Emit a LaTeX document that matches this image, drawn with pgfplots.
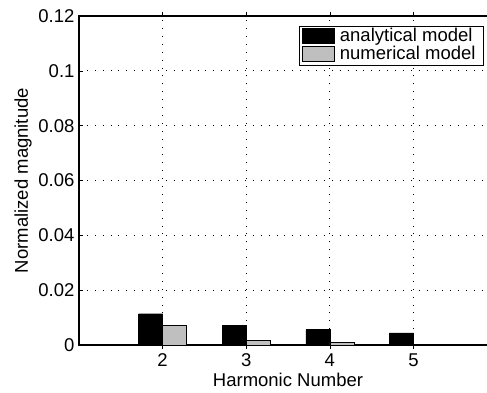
\documentclass[border=0pt]{standalone}
\usepackage{pgfplots}
\pgfplotsset{compat=1.18}
\usetikzlibrary{calc}
\usepackage{fontspec}
\setmainfont{Liberation Sans}
\newcommand{\ff}{\fontsize{18.5}{21}\selectfont}
\begin{document}
\begin{tikzpicture}
\begin{axis}[
  scale only axis,
  width=418pt, height=329pt,
  xmin=1, xmax=6, ymin=0, ymax=0.12,
  xtick={2,3,4,5},
  ytick={0,0.02,0.04,0.06,0.08,0.1,0.12},
  yticklabels={0,0.02,0.04,0.06,0.08,0.1,0.12},
  xticklabels={2,3,4,5},
  tick align=inside,
  major tick length=4pt,
  tick style={black, line width=0.6pt},
  axis line style={line width=1.2pt},
  xmajorgrids, ymajorgrids,
  grid style={black, line width=0.7pt, dash pattern=on 0.9pt off 7pt},
  ticklabel style={font=\ff},
  /pgf/number format/assume math mode=true,
  xlabel={Harmonic Number},
  ylabel={Normalized magnitude},
  label style={font=\ff},
  xlabel style={yshift=0pt},
  ylabel style={yshift=0pt},
  xticklabel style={yshift=-1pt},
  yticklabel style={xshift=-1pt},
  ybar, bar width=24pt,
  legend cell align=left,
  legend style={at={(rel axis cs:0.969,0.970)}, anchor=north east,
    draw=black, line width=0.8pt, font=\ff,
    inner xsep=3pt, inner ysep=2pt, row sep=1pt,
    nodes={inner ysep=0pt, inner xsep=5pt, text height=13pt, text depth=4pt}},
  legend image code/.code={\draw[#1, line width=0.6pt] (0pt,-7pt) rectangle (32pt,8pt);},
]
\addplot[fill=black, draw=black, bar shift=-12pt] coordinates {(2,0.0114) (3,0.0071) (4,0.0056) (5,0.0044)};
\addlegendentry{analytical model}
\addplot[fill=black!25, draw=black, line width=0.6pt, bar shift=12pt] coordinates {(2,0.0071) (3,0.0018) (4,0.0010) (5,0.0002)};
\addlegendentry{numerical model}
\coordinate (O) at (rel axis cs:0,0);
\end{axis}
\pgfresetboundingbox
\path[use as bounding box] ($(O)+(-79pt,-48pt)$) rectangle ++(487pt,393pt);
\end{tikzpicture}
\end{document}
